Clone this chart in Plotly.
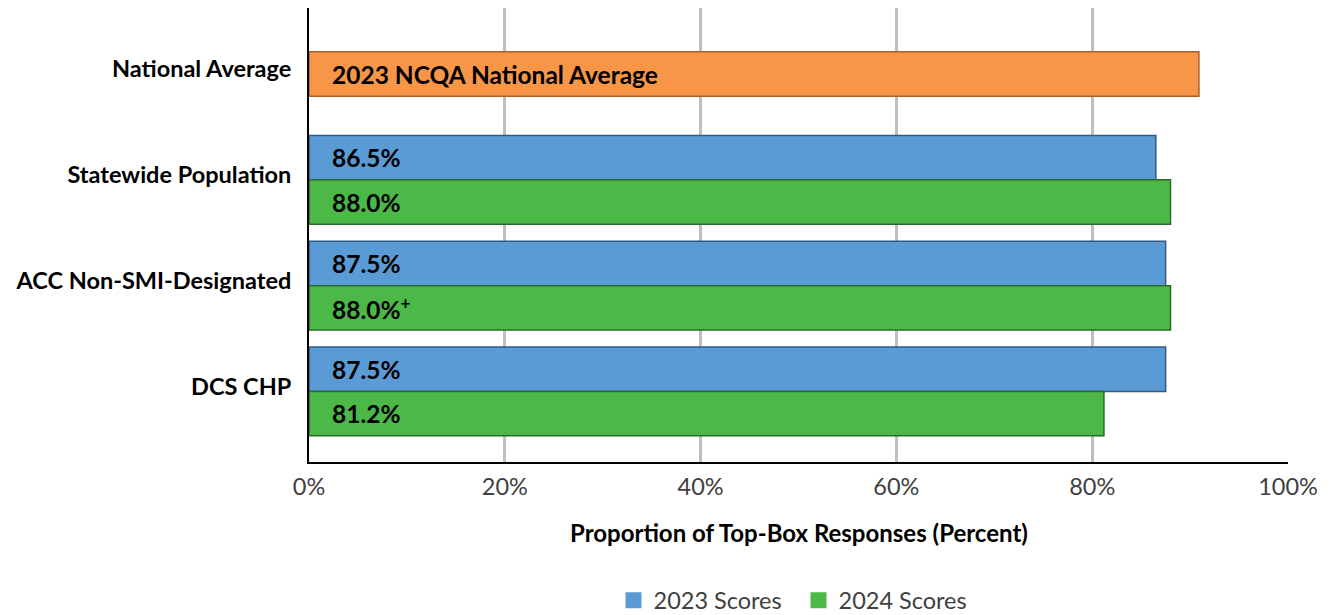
import plotly.graph_objects as go

categories = ["National Average", "Statewide Population", "ACC Non-SMI-Designated", "DCS CHP"]
national_label = "2023 NCQA National Average"
national_value = [90.9]
groups = ["Statewide Population", "ACC Non-SMI-Designated", "DCS CHP"]
scores_2023 = [86.5, 87.5, 87.5]
scores_2024 = [88.0, 88.0, 81.2]
labels_2023 = ["86.5%", "87.5%", "87.5%"]
labels_2024 = ["88.0%", "88.0%<sup>+</sup>", "81.2%"]
x_ticks = [0, 20, 40, 60, 80, 100]
x_ticktext = ["0%", "20%", "40%", "60%", "80%", "100%"]

FONT = "Lato, 'Open Sans', sans-serif"
BLUE, GREEN, ORANGE = "#5B9BD5", "#4CB848", "#F79646"
W = 0.42
idx = {c: i for i, c in enumerate(categories)}
gi = [idx[g] for g in groups]

fig = go.Figure()
fig.add_trace(go.Bar(
    x=national_value, y=[idx["National Average"]], orientation="h",
    width=W, offset=-W / 2, showlegend=False, hoverinfo="x",
    marker=dict(color=ORANGE, line=dict(color="#A8612A", width=1.5)),
))
fig.add_trace(go.Bar(
    x=scores_2023, y=gi, orientation="h", name="2023 Scores", showlegend=False,
    width=W, offset=-W,
    marker=dict(color=BLUE, line=dict(color="#2E5A85", width=1.5)),
))
fig.add_trace(go.Bar(
    x=scores_2024, y=gi, orientation="h", name="2024 Scores", showlegend=False,
    width=W, offset=0,
    marker=dict(color=GREEN, line=dict(color="#2A6B2A", width=1.5)),
))
# legend entries with larger square swatches
for name, col in [("2023 Scores", BLUE), ("2024 Scores", GREEN)]:
    fig.add_trace(go.Scatter(x=[None], y=[None], mode="markers", name=name,
                             marker=dict(symbol="square", size=18, color=col)))

ann_font = dict(family=FONT, size=24.5, color="#000000")
fig.add_annotation(x=0, y=idx["National Average"], text="<b>" + national_label + "</b>",
                   xanchor="left", yanchor="middle", xshift=21, showarrow=False, font=ann_font)
for g, t in zip(gi, labels_2023):
    fig.add_annotation(x=0, y=g - W / 2, text="<b>" + t + "</b>", xanchor="left",
                       yanchor="middle", xshift=21, showarrow=False, font=ann_font)
for g, t in zip(gi, labels_2024):
    fig.add_annotation(x=0, y=g + W / 2, text="<b>" + t + "</b>", xanchor="left",
                       yanchor="middle", xshift=21, showarrow=False, font=ann_font)

fig.add_annotation(x=0.5, y=-0.155, xref="paper", yref="paper",
                   text="<b>Proportion of Top-Box Responses (Percent)</b>",
                   showarrow=False, xanchor="center", yanchor="middle",
                   font=dict(family=FONT, size=24, color="#000000"))

fig.update_layout(
    width=1330, height=615,
    margin=dict(l=301, r=50, t=0, b=153),
    paper_bgcolor="white", plot_bgcolor="white",
    barmode="overlay",
    font=dict(family=FONT),
    xaxis=dict(range=[0, 100], tickvals=x_ticks, ticktext=x_ticktext,
               showgrid=True, gridcolor="#BFBFBF", gridwidth=2.5,
               showline=True, linecolor="#000000", linewidth=2,
               tickfont=dict(family=FONT, size=23.5, color="#404040"),
               ticklabelstandoff=3, zeroline=False, automargin=False),
    yaxis=dict(range=[3.667, -0.624], tickvals=list(range(len(categories))),
               ticktext=["<b>" + c + "</b>" for c in categories],
               showgrid=False, showline=True, linecolor="#000000", linewidth=2,
               tickfont=dict(family=FONT, size=23.5, color="#000000"),
               ticklabelstandoff=11, ticklabelshift=5, zeroline=False, automargin=False),
    legend=dict(orientation="h", x=0.5, xanchor="center", y=-0.305, yanchor="middle",
                font=dict(family=FONT, size=23.5, color="#404040"),
                traceorder="normal", entrywidth=140),
)

fig.write_html("out.html")
